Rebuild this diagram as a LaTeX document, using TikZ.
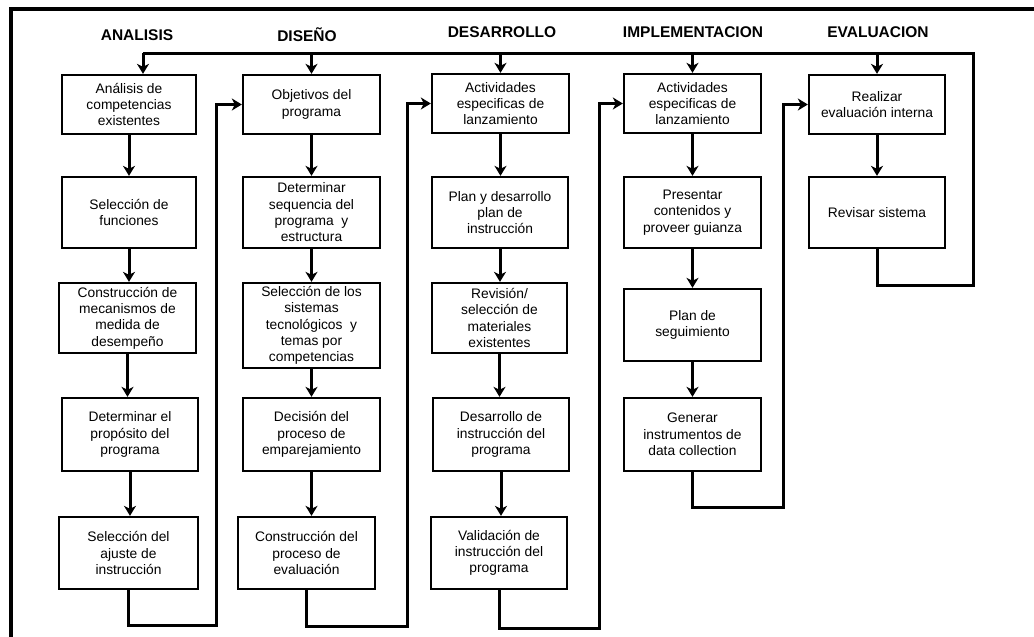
\documentclass[tikz,border=0pt]{standalone}
\usepackage{fontspec}
\setmainfont{Liberation Sans}
\usetikzlibrary{arrows.meta}
\begin{document}
\begin{tikzpicture}[x=1pt,y=-1pt,
  stepbox/.style={draw=black,line width=2.3pt,fill=white,align=center,inner sep=1pt,
    font=\fontsize{13.8}{16.3}\selectfont},
  phase/.style={font=\fontsize{15.5}{18}\selectfont\bfseries},
  link/.style={line width=3pt,-{Stealth[length=10pt,width=12pt,inset=3pt]}},
  wire/.style={line width=3pt}]
\useasboundingbox (0,0) rectangle (1034,637);
% frame
\draw[line width=4pt] (11,637) -- (11,9) -- (1034,9);

% phase titles
\node[phase] (tA) at (137,35) {ANALISIS};
\node[phase] (tD) at (307,35) {DISEÑO};
\node[phase] (tDE) at (502,32) {DESARROLLO};
\node[phase] (tI) at (693,32) {IMPLEMENTACION};
\node[phase] (tE) at (878,32) {EVALUACION};

% ANALISIS
\node[stepbox,minimum width=134,minimum height=59] (A1) at (129,104.5) {Análisis de\\competencias\\existentes};
\node[stepbox,minimum width=134,minimum height=71] (A2) at (129,212.5) {Selección de\\funciones};
\node[stepbox,minimum width=137,minimum height=70] (A3) at (127.5,318) {Construcción de\\mecanismos de\\medida de\\desempeño};
\node[stepbox,minimum width=136,minimum height=73] (A4) at (130,434.5) {Determinar el\\propósito del\\programa};
\node[stepbox,minimum width=139,minimum height=72] (A5) at (128.5,553) {Selección del\\ajuste de\\instrucción};

% DISEÑO
\node[stepbox,minimum width=137,minimum height=59] (D1) at (311.5,104.5) {Objetivos del\\programa};
\node[stepbox,minimum width=137,minimum height=71] (D2) at (311.5,212.5) {Determinar\\sequencia del\\programa\ \ y\\estructura};
\node[stepbox,minimum width=137,minimum height=85] (D3) at (311.5,325.5) {Selección de los\\sistemas\\tecnológicos\ \ y\\temas por\\competencias};
\node[stepbox,minimum width=137,minimum height=73] (D4) at (311.5,434.5) {Decisión del\\proceso de\\emparejamiento};
\node[stepbox,minimum width=137,minimum height=72] (D5) at (306.5,553) {Construcción del\\proceso de\\evaluación};

% DESARROLLO
\node[stepbox,minimum width=137,minimum height=59] (R1) at (500.5,103.5) {Actividades\\especificas de\\lanzamiento};
\node[stepbox,minimum width=136,minimum height=71] (R2) at (500,212.5) {Plan y desarrollo\\plan de\\instrucción};
\node[stepbox,minimum width=135,minimum height=70] (R3) at (499.5,318) {Revisión/\\selección de\\materiales\\existentes};
\node[stepbox,minimum width=136,minimum height=73] (R4) at (501,434.5) {Desarrollo de\\instrucción del\\programa};
\node[stepbox,minimum width=136,minimum height=72] (R5) at (499,553) {Validación de\\instrucción del\\programa};

% IMPLEMENTACION
\node[stepbox,minimum width=137,minimum height=59] (I1) at (692.5,103.5) {Actividades\\especificas de\\lanzamiento};
\node[stepbox,minimum width=137,minimum height=71] (I2) at (692.5,212.5) {Presentar\\contenidos y\\proveer guianza};
\node[stepbox,minimum width=137,minimum height=72] (I3) at (692.5,325) {Plan de\\seguimiento};
\node[stepbox,minimum width=137,minimum height=73] (I4) at (692.5,434.5) {Generar\\instrumentos de\\data collection};

% EVALUACION
\node[stepbox,minimum width=136,minimum height=59] (E1) at (877,104.5) {Realizar\\evaluación interna};
\node[stepbox,minimum width=136,minimum height=71] (E2) at (877,212.5) {Revisar sistema};

% steps inside each phase (kept vertical)
\foreach \a/\b in {A1/A2,A2/A3,A3/A4,A4/A5,D1/D2,D2/D3,D3/D4,D4/D5,R1/R2,R2/R3,R3/R4,R4/R5,I1/I2,I2/I3,I3/I4,E1/E2}
  \draw[link] (\a.south) -- (\a.south |- \b.north);

% hand-over from one phase to the next
\coordinate (h1) at (216,625);
\coordinate (h2) at (407,626);
\coordinate (h3) at (599,628);
\coordinate (h4) at (783,507);
\draw[link] (A5.south) |- (h1) |- (D1.west);
\draw[link] (D5.south) |- (h2) |- (R1.west);
\draw[link] (R5.south) |- (h3) |- (I1.west);
\draw[link] (I4.south) |- (h4) |- (E1.west);

% feedback loop from the evaluation back to every phase
\coordinate (fb) at (973,285);
\coordinate (ft) at (973,53);
\coordinate (fa) at (143,53);
\draw[wire] (E2.south) |- (fb) -- (ft) -- (fa);
\draw[link] (fa) -- (fa |- A1.north);
\draw[link] (D1.north |- ft) -- (D1.north);
\draw[link] (R1.north |- ft) -- (R1.north);
\draw[link] (I1.north |- ft) -- (I1.north);
\draw[link] (E1.north |- ft) -- (E1.north);
\end{tikzpicture}
\end{document}
